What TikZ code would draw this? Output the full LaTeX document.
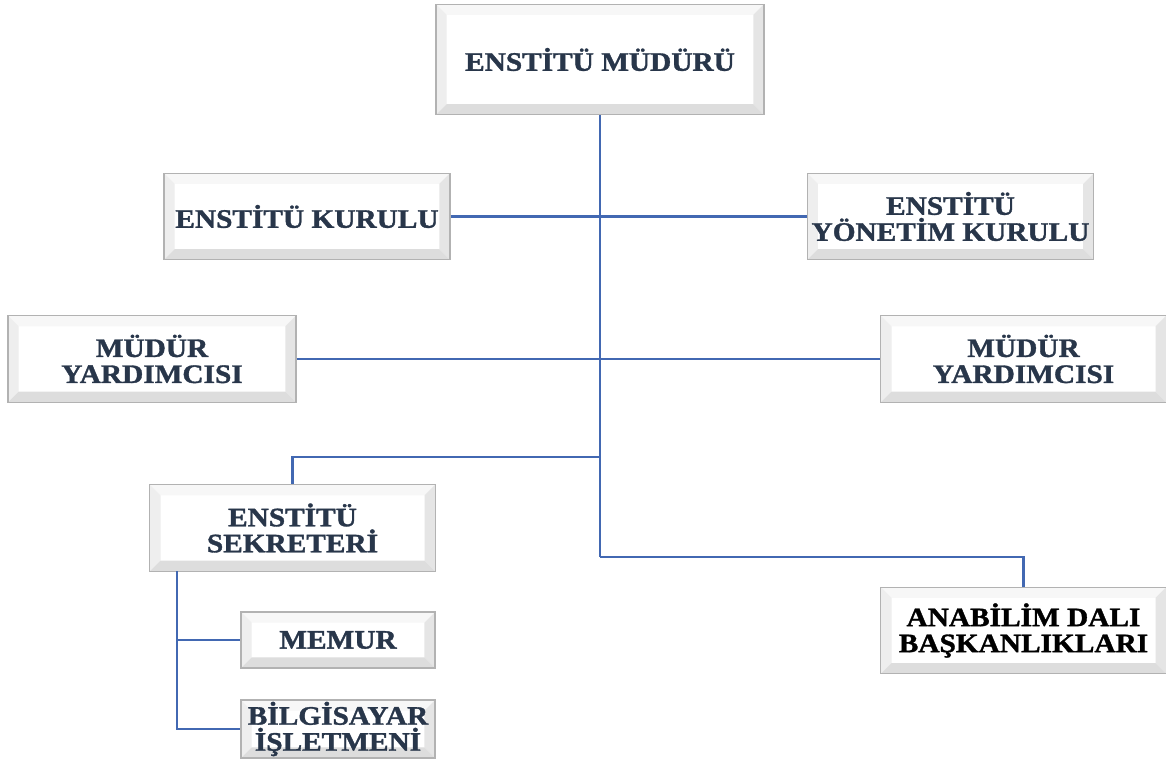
\documentclass[tikz,border=0pt]{standalone}
\usepackage{fontspec}
\usepackage{graphicx}
\setmainfont{Liberation Serif}[BoldFeatures={FakeBold=1.2}]
\newcommand\sx[1]{\scalebox{1.1}[1]{#1}}
\definecolor{textc}{RGB}{40,54,74}
\definecolor{linec}{RGB}{66,104,178}
\tikzset{
  bx/.style={draw=gray!60, line width=0.9pt, fill=white, inner sep=0pt, align=center,
    text=textc, font=\fontsize{20pt}{19.5pt}\selectfont\bfseries,
    path picture={
      \fill[gray!6] (path picture bounding box.north west) -- (path picture bounding box.north east)
        -- ([shift={(-8pt,-8pt)}]path picture bounding box.north east) -- ([shift={(8pt,-8pt)}]path picture bounding box.north west) -- cycle;
      \fill[gray!13] (path picture bounding box.north west) -- (path picture bounding box.south west)
        -- ([shift={(8pt,8pt)}]path picture bounding box.south west) -- ([shift={(8pt,-8pt)}]path picture bounding box.north west) -- cycle;
      \fill[gray!20] (path picture bounding box.north east) -- (path picture bounding box.south east)
        -- ([shift={(-8pt,8pt)}]path picture bounding box.south east) -- ([shift={(-8pt,-8pt)}]path picture bounding box.north east) -- cycle;
      \fill[gray!27] (path picture bounding box.south west) -- (path picture bounding box.south east)
        -- ([shift={(-8pt,8pt)}]path picture bounding box.south east) -- ([shift={(8pt,8pt)}]path picture bounding box.south west) -- cycle;
    }},
  conn/.style={draw=linec, line width=2.1pt}
}
\begin{document}
\begin{tikzpicture}[x=0.75pt,y=-0.75pt]
\useasboundingbox (0,0) rectangle (1166,762);
% boxes
\node[bx, minimum width=246pt, minimum height=83pt] (top) at (600,59.5) {\sx{ENSTİTÜ MÜDÜRÜ}};
\node[bx, minimum width=214.5pt, minimum height=65pt] (kur) at (307,216.5) {\sx{ENSTİTÜ KURULU}};
\node[bx, minimum width=215pt, minimum height=65pt] (yon) at (950.5,216.5) {\sx{ENSTİTÜ}\\\sx{YÖNETİM KURULU}};
\node[bx, minimum width=216pt, minimum height=65pt] (myl) at (152,359) {\sx{MÜDÜR}\\\sx{YARDIMCISI}};
\node[bx, minimum width=214pt, minimum height=65pt] (myr) at (1023.5,359) {\sx{MÜDÜR}\\\sx{YARDIMCISI}};
\node[bx, minimum width=214pt, minimum height=65pt] (sek) at (292.5,528) {\sx{ENSTİTÜ}\\\sx{SEKRETERİ}};
\node[bx, minimum width=145.5pt, minimum height=42pt] (mem) at (338,640) {\sx{MEMUR}};
\node[bx, minimum width=145.5pt, minimum height=43.5pt] (bil) at (338,729) {\sx{BİLGİSAYAR}\\\sx{İŞLETMENİ}};
\node[bx, minimum width=214pt, minimum height=65pt, text=black, font=\fontsize{20pt}{19.5pt}\selectfont\bfseries] (ana) at (1023.5,630.5) {\sx{ANABİLİM DALI}\\\sx{BAŞKANLIKLARI}};
% junctions
\coordinate (j1) at (600,457);
\coordinate (j2) at (600,557);
\coordinate (s1) at (177,571);
% connectors
\draw[conn] (top.south) -- (j2);
\draw[conn] (kur.east) -- (yon.west);
\draw[conn] (myl.east) -- (myr.west);
\draw[conn] (j1) -| (sek.north);
\draw[conn] (j2) -| (ana.north);
\draw[conn] (s1) |- (mem.west);
\draw[conn] (s1) |- (bil.west);
\end{tikzpicture}
\end{document}
